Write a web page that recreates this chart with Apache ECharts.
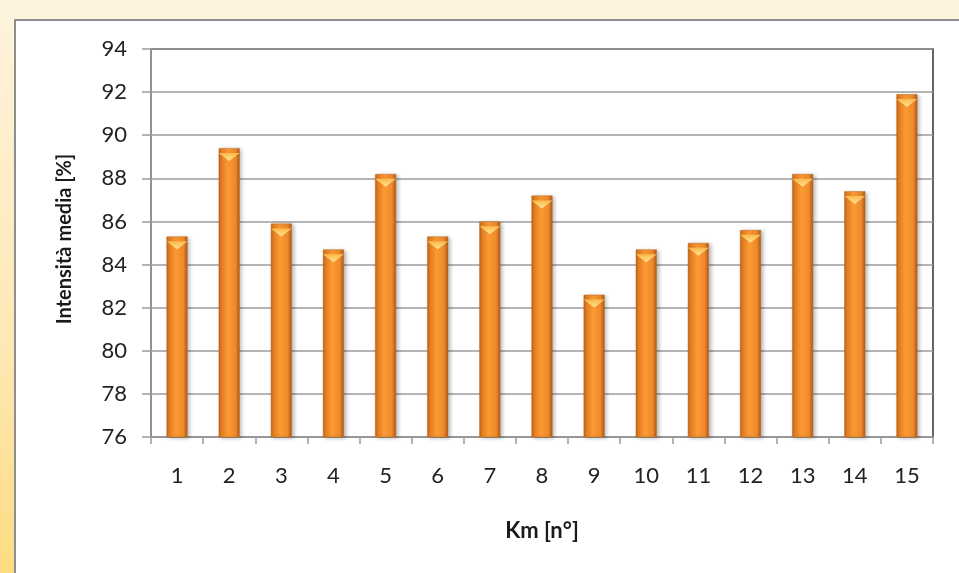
<!DOCTYPE html>
<html>
<head>
<meta charset="utf-8">
<script src="https://cdn.jsdelivr.net/npm/echarts@6/dist/echarts.min.js"></script>
<style>
  html, body { margin: 0; padding: 0; width: 959px; height: 573px; overflow: hidden; }
  body { background: linear-gradient(to bottom, #fef3dd 0%, #fee8b4 60%, #fedc82 100%); position: relative; }
  #panel { position: absolute; left: 14px; top: 19px; width: 1000px; height: 600px; background: #ffffff;
           border-left: 2px solid #8e8e8e; border-top: 2px solid #8e8e8e; }
  #chart { position: absolute; left: 0; top: 0; width: 959px; height: 573px; }
</style>
</head>
<body>
<div id="panel"></div>
<div id="chart"></div>
<script>
const categories = ['1','2','3','4','5','6','7','8','9','10','11','12','13','14','15'];
const values = [85.3, 89.4, 85.9, 84.7, 88.2, 85.3, 86.0, 87.2, 82.6, 84.7, 85.0, 85.6, 88.2, 87.4, 91.9];
const yTicks = { min: 76, max: 94, interval: 2 };
const xTitle = 'Km [n°]';
const yTitle = 'Intensità media [%]';

const FONT = 'Lato, "Open Sans", sans-serif';
const chart = echarts.init(document.getElementById('chart'), null, { renderer: 'canvas' });
chart.setOption({
  backgroundColor: 'transparent',
  animation: false,
  grid: { left: 151, right: 26, top: 49, bottom: 136, show: true, borderColor: '#333', borderWidth: 1.5, backgroundColor: 'transparent' },
  xAxis: {
    type: 'category',
    data: categories,
    name: xTitle,
    nameLocation: 'middle',
    nameGap: 83,
    nameTextStyle: { fontFamily: FONT, fontWeight: 'bold', fontSize: 22, color: '#1a1a1a' },
    axisLine: { lineStyle: { color: '#9a9a9a', width: 1.5 } },
    axisTick: { show: true, length: 7, lineStyle: { color: '#9a9a9a', width: 1.5 } },
    axisLabel: { margin: 28, fontFamily: FONT, fontSize: 22, color: '#222' }
  },
  yAxis: {
    type: 'value',
    min: yTicks.min, max: yTicks.max, interval: yTicks.interval,
    name: yTitle,
    nameLocation: 'middle',
    nameGap: 76,
    nameRotate: 90,
    nameTextStyle: { fontFamily: FONT, fontWeight: 'bold', fontSize: 20, color: '#1a1a1a', padding: [0, 0, 0, 8] },
    axisLine: { show: true, lineStyle: { color: '#a0a0a0', width: 1.5 } },
    axisTick: { show: true, length: 9, lineStyle: { color: '#9a9a9a', width: 1.5 } },
    axisLabel: { margin: 24, fontFamily: FONT, fontSize: 22, color: '#222' },
    splitLine: { show: true, lineStyle: { color: '#9c9c9c', width: 1.5 } }
  },
  series: [
    {
      type: 'bar',
      data: values,
      barWidth: 21,
      itemStyle: {
        color: new echarts.graphic.LinearGradient(0, 0, 1, 0, [
          { offset: 0, color: '#b35c17' },
          { offset: 0.12, color: '#e57f22' },
          { offset: 0.45, color: '#fb9a33' },
          { offset: 0.8, color: '#ee8a2a' },
          { offset: 1, color: '#a9561a' }
        ]),
        borderColor: '#c86f1f',
        borderWidth: 0.5,
        shadowColor: 'rgba(0,0,0,0.28)',
        shadowBlur: 4,
        shadowOffsetX: 2,
        shadowOffsetY: 1
      },
      z: 2
    },
    {
      type: 'pictorialBar',
      data: values,
      symbol: 'triangle',
      symbolRotate: 180,
      symbolPosition: 'end',
      symbolSize: [21, 8],
      symbolOffset: [0, '60%'],
      itemStyle: {
        color: new echarts.graphic.LinearGradient(0, 0, 0, 1, [
          { offset: 0, color: '#ffe596' },
          { offset: 1, color: '#fbb848' }
        ])
      },
      z: 3,
      silent: true
    }
  ]
});
</script>
</body>
</html>
